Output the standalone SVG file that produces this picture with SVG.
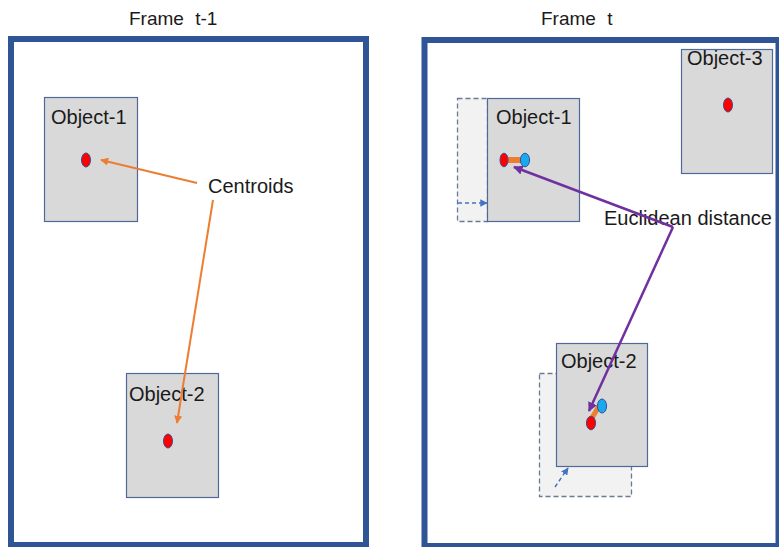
<svg xmlns="http://www.w3.org/2000/svg" width="779" height="547" viewBox="0 0 779 547">
<defs>
<style>
.frame{fill:#FFFFFF;stroke:#2F5597;stroke-width:6}
.obj{fill:#D9D9D9;stroke:#4F6A9A;stroke-width:1.2}
.ghost{fill:#F2F2F2;stroke:#6A7A96;stroke-width:1.3;stroke-dasharray:5 3}
.lbl{font-family:"Liberation Sans",Arial,sans-serif;font-size:20px;fill:#1A1A1A}
.title{font-family:"Liberation Sans",Arial,sans-serif;font-size:19px;fill:#1A1A1A;word-spacing:6px}
.red{fill:#FF0000;stroke:#3A4F8A;stroke-width:1}
.blue{fill:#1BA8EE;stroke:#2F5597;stroke-width:1}
.orange{stroke:#ED7D31;stroke-width:2;fill:none}
.purple{stroke:#7030A0;stroke-width:2.5;fill:none}
.move{stroke:#4472C4;stroke-width:1.5;stroke-dasharray:4 3;fill:none}
</style>
<marker id="arrO" viewBox="0 0 10 10" refX="9" refY="5" markerWidth="4" markerHeight="4" orient="auto" markerUnits="strokeWidth">
<path d="M0,0 L10,5 L0,10 z" fill="#ED7D31"/>
</marker>
<marker id="arrP" viewBox="0 0 10 10" refX="9" refY="5" markerWidth="3.8" markerHeight="3.8" orient="auto" markerUnits="strokeWidth">
<path d="M0,0 L10,5 L0,10 z" fill="#7030A0"/>
</marker>
<marker id="arrB" viewBox="0 0 10 10" refX="9" refY="5" markerWidth="5" markerHeight="5" orient="auto" markerUnits="strokeWidth">
<path d="M0,0 L10,5 L0,10 z" fill="#4472C4"/>
</marker>
</defs>
<rect width="779" height="547" fill="#FFFFFF"/>

<g id="frame-t-1">
<text class="title" x="129" y="25">Frame t-1</text>
<rect class="frame" x="11" y="39" width="355" height="506"/>
</g>

<g id="frame-t">
<text class="title" x="541" y="25">Frame t</text>
<rect class="frame" x="424.5" y="40" width="354" height="506"/>
</g>

<g id="left-object-1">
<rect class="obj" x="44.5" y="97.5" width="93" height="124"/>
<text class="lbl" x="51" y="124">Object-1</text>
<ellipse class="red" cx="86" cy="160" rx="4.5" ry="7"/>
</g>

<g id="left-object-2">
<rect class="obj" x="126.5" y="373.5" width="92" height="124"/>
<text class="lbl" x="129" y="401">Object-2</text>
<ellipse class="red" cx="168" cy="441" rx="4.5" ry="7"/>
</g>

<g id="centroids-label">
<text class="lbl" x="208" y="193">Centroids</text>
</g>

<g id="right-object-1-previous">
<rect class="ghost" x="457.5" y="98.5" width="30" height="123"/>
</g>

<g id="right-object-1">
<rect class="obj" x="487.5" y="98.5" width="92" height="123"/>
<text class="lbl" x="496" y="124">Object-1</text>
<line x1="507" y1="160" x2="521" y2="160" stroke="#ED7D31" stroke-width="6"/>
<ellipse class="red" cx="504" cy="160" rx="4" ry="6.8"/>
<ellipse class="blue" cx="525" cy="160" rx="4.6" ry="6.8"/>
</g>

<g id="right-object-3">
<rect class="obj" x="681.5" y="49.5" width="91" height="124"/>
<text class="lbl" x="687" y="65">Object-3</text>
<ellipse class="red" cx="728" cy="105" rx="4.5" ry="7"/>
</g>

<g id="right-object-2-previous">
<rect class="ghost" x="539.5" y="373.5" width="92" height="123"/>
</g>

<g id="right-object-2">
<rect class="obj" x="556.5" y="343.5" width="91" height="123"/>
<text class="lbl" x="561" y="368">Object-2</text>
<line x1="592" y1="418" x2="599" y2="406" stroke="#ED7D31" stroke-width="5"/>
<ellipse class="blue" cx="602" cy="406" rx="4.6" ry="7"/>
<ellipse class="red" cx="591" cy="423" rx="4.6" ry="6.8"/>
</g>

<g id="euclidean-label">
<text class="lbl" x="604" y="225">Euclidean distance</text>
</g>

<g id="connectors">
<line class="orange" x1="197" y1="183" x2="101" y2="160" marker-end="url(#arrO)"/>
<line class="orange" x1="213" y1="200" x2="177" y2="423" marker-end="url(#arrO)"/>
<line class="purple" x1="673" y1="227" x2="514" y2="167" marker-end="url(#arrP)"/>
<line class="purple" x1="673" y1="227" x2="589" y2="411" marker-end="url(#arrP)"/>
<line class="move" x1="458" y1="203" x2="487" y2="203" marker-end="url(#arrB)"/>
<line class="move" x1="555" y1="487" x2="568" y2="468" marker-end="url(#arrB)"/>
</g>
</svg>
